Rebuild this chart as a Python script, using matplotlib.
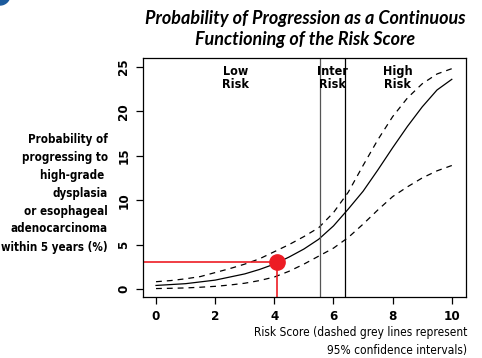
import matplotlib
matplotlib.use('Agg')
import matplotlib.pyplot as plt
from matplotlib.patches import Ellipse

# ==================== 数据 ====================
score = [0, 0.5, 1, 1.5, 2, 2.5, 3, 3.5, 4, 4.5, 5,
         5.5, 6, 6.5, 7, 7.5, 8, 8.5, 9, 9.5, 10]
prob = [0.4, 0.5, 0.6, 0.8, 1.0, 1.35, 1.7, 2.2, 2.8, 3.6, 4.5,
        5.6, 7.1, 9.0, 11.0, 13.4, 15.9, 18.3, 20.5, 22.4, 23.6]
upper = [0.82, 0.95, 1.15, 1.4, 1.85, 2.3, 2.8, 3.4, 4.2, 5.0, 5.9,
         6.9, 8.6, 10.9, 13.9, 16.8, 19.4, 21.5, 23.1, 24.2, 24.8]
lower = [0.05, 0.08, 0.12, 0.2, 0.3, 0.45, 0.65, 0.95, 1.35, 2.0, 2.8,
         3.7, 4.6, 5.8, 7.3, 8.9, 10.4, 11.5, 12.5, 13.3, 13.9]

cutoffs = [5.55, 6.4]
cutoff_colors = ['#555555', 'black']
zone_labels = ['Low\nRisk', 'Inter\nRisk', 'High\nRisk']
zone_x = [2.7, 5.975, 8.17]

patient_score = 4.1
patient_prob = 3.0

xticks = [0, 2, 4, 6, 8, 10]
yticks = [0, 5, 10, 15, 20, 25]

# ==================== 绘图 ====================
narrow = dict(family=['DejaVu Sans'], fontstretch='condensed')
plt.rcParams['lines.scale_dashes'] = False

fig = plt.figure(figsize=(4.82, 3.58), dpi=100)
ax = fig.add_axes([143 / 482, 1 - 297 / 358, 323 / 482, 239 / 358])

ax.plot(score, prob, color='black', lw=0.9)
ax.plot(score, upper, color='black', lw=0.9, dashes=(4.2, 3.6))
ax.plot(score, lower, color='black', lw=0.9, dashes=(4.2, 3.6))

for c, col in zip(cutoffs, cutoff_colors):
    ax.axvline(c, color=col, lw=0.9)

xl = (-0.44, 10.48)
yl = (-0.9, 26.0)
red = '#ed1c24'
ax.plot([xl[0], patient_score], [patient_prob, patient_prob], color=red, lw=1.2)
ax.plot([patient_score, patient_score], [yl[0], patient_prob], color=red, lw=1.2)
ax.plot(patient_score, patient_prob, 'o', color=red, ms=11, zorder=5)

for lab, zx in zip(zone_labels, zone_x):
    ax.text(zx, 25.2, lab, ha='center', va='top', fontsize=9,
            fontweight='bold', linespacing=0.95, **narrow)

ax.set_xlim(*xl)
ax.set_ylim(*yl)
ax.set_xticks(xticks)
ax.set_yticks(yticks)
ax.set_xticklabels([str(t) for t in xticks], fontsize=9.5, fontweight='bold',
                   **narrow)
ax.set_yticklabels([str(t) for t in yticks], fontsize=9.5, fontweight='bold',
                   rotation=90, va='center', **narrow)
ax.tick_params(length=5, width=0.9, pad=4)
for s in ax.spines.values():
    s.set_linewidth(0.9)

fig.text(305 / 482, 1 - 10 / 358,
         'Probability of Progression as a Continuous\nFunctioning of the Risk Score',
         ha='center', va='top', fontsize=13, fontweight='bold', style='italic',
         family=['Lato', 'DejaVu Sans'], linespacing=1.25)

fig.text(108 / 482, 1 - 193 / 358,
         'Probability of\nprogressing to\nhigh-grade \ndysplasia\nor esophageal\n'
         'adenocarcinoma\nwithin 5 years (%)',
         ha='right', va='center', fontsize=8.3, fontweight='bold',
         linespacing=1.5, **narrow)

fig.text(467 / 482, 1 - 357 / 358,
         'Risk Score (dashed grey lines represent\n95% confidence intervals)',
         ha='right', va='bottom', fontsize=8.6, linespacing=1.5, **narrow)

fig.patches.append(Ellipse((0.0, 1 + 5 / 358), 20 / 482, 20 / 358,
                           transform=fig.transFigure, color='#1b5a9c'))

fig.savefig('out.png', dpi=100)
